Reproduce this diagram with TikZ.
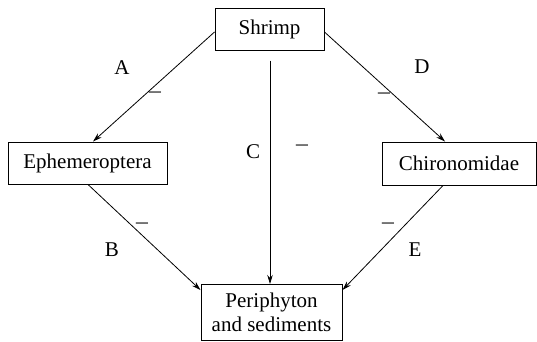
\documentclass[tikz,border=0pt]{standalone}
\usepackage{fontspec}
\IfFontExistsTF{LiberationSerif-Regular.ttf}
  {\setmainfont{LiberationSerif-Regular.ttf}[BoldFont=LiberationSerif-Bold.ttf,ItalicFont=LiberationSerif-Italic.ttf]}
  {\setmainfont{Liberation Serif}}
\usetikzlibrary{arrows.meta}
\newcommand{\negsign}{\scalebox{1.25}[1]{−}}
\begin{document}
\begin{tikzpicture}[x=1pt,y=-1pt,
  every node/.style={font=\fontsize{21}{24}\selectfont},
  taxon/.style={draw,line width=1pt,minimum height=42pt,inner sep=0pt},
  link/.style={line width=0.8pt,-{Stealth[length=9pt,width=5.5pt]}},
  lbl/.style={inner sep=0pt}]
\useasboundingbox (0,0) rectangle (537,341);
% trophic groups
\node[taxon,minimum width=109pt] (shrimp) at (269.5,29) {Shrimp};
\node[taxon,minimum width=159pt] (eph) at (87.5,163) {Ephemeroptera};
\node[taxon,minimum width=154pt,minimum height=43pt] (chir) at (459,163.5) {Chironomidae};
\node[draw,line width=1pt,anchor=north,minimum width=141pt,inner xsep=0pt,inner ysep=8.7pt,align=center]
  (peri) at (271.5,284) {Periphyton\\and sediments};
% interaction arrows
\draw[link] ([yshift=-3pt]shrimp.west) -- ([xshift=5.5pt]eph.north);
\draw[link] ([yshift=-3pt]shrimp.east) -- ([xshift=-14pt]chir.north);
\draw[link] ([yshift=-10pt,xshift=0.5pt]shrimp.south) -- ([xshift=0.5pt]shrimp.south |- peri.north);
\draw[link] ([xshift=0.5pt]eph.south) -- ([yshift=-6pt]peri.north west);
\draw[link] ([xshift=-16pt]chir.south) -- ([yshift=-6pt]peri.north east);
% path labels and signs
\node[lbl] (la) at (122,68) {A};
\node[lbl] (ma) at (155,96) {\negsign};
\node[lbl] (ld) at (422,67) {D};
\node[lbl] (md) at (384,97) {\negsign};
\node[lbl] (lc) at (253,152) {C};
\node[lbl] (mc) at (302,149) {\negsign};
\node[lbl] (lb) at (112,250) {B};
\node[lbl] (mb) at (142,227) {\negsign};
\node[lbl] (le) at (415,250) {E};
\node[lbl] (me) at (388,227) {\negsign};
\end{tikzpicture}
\end{document}
